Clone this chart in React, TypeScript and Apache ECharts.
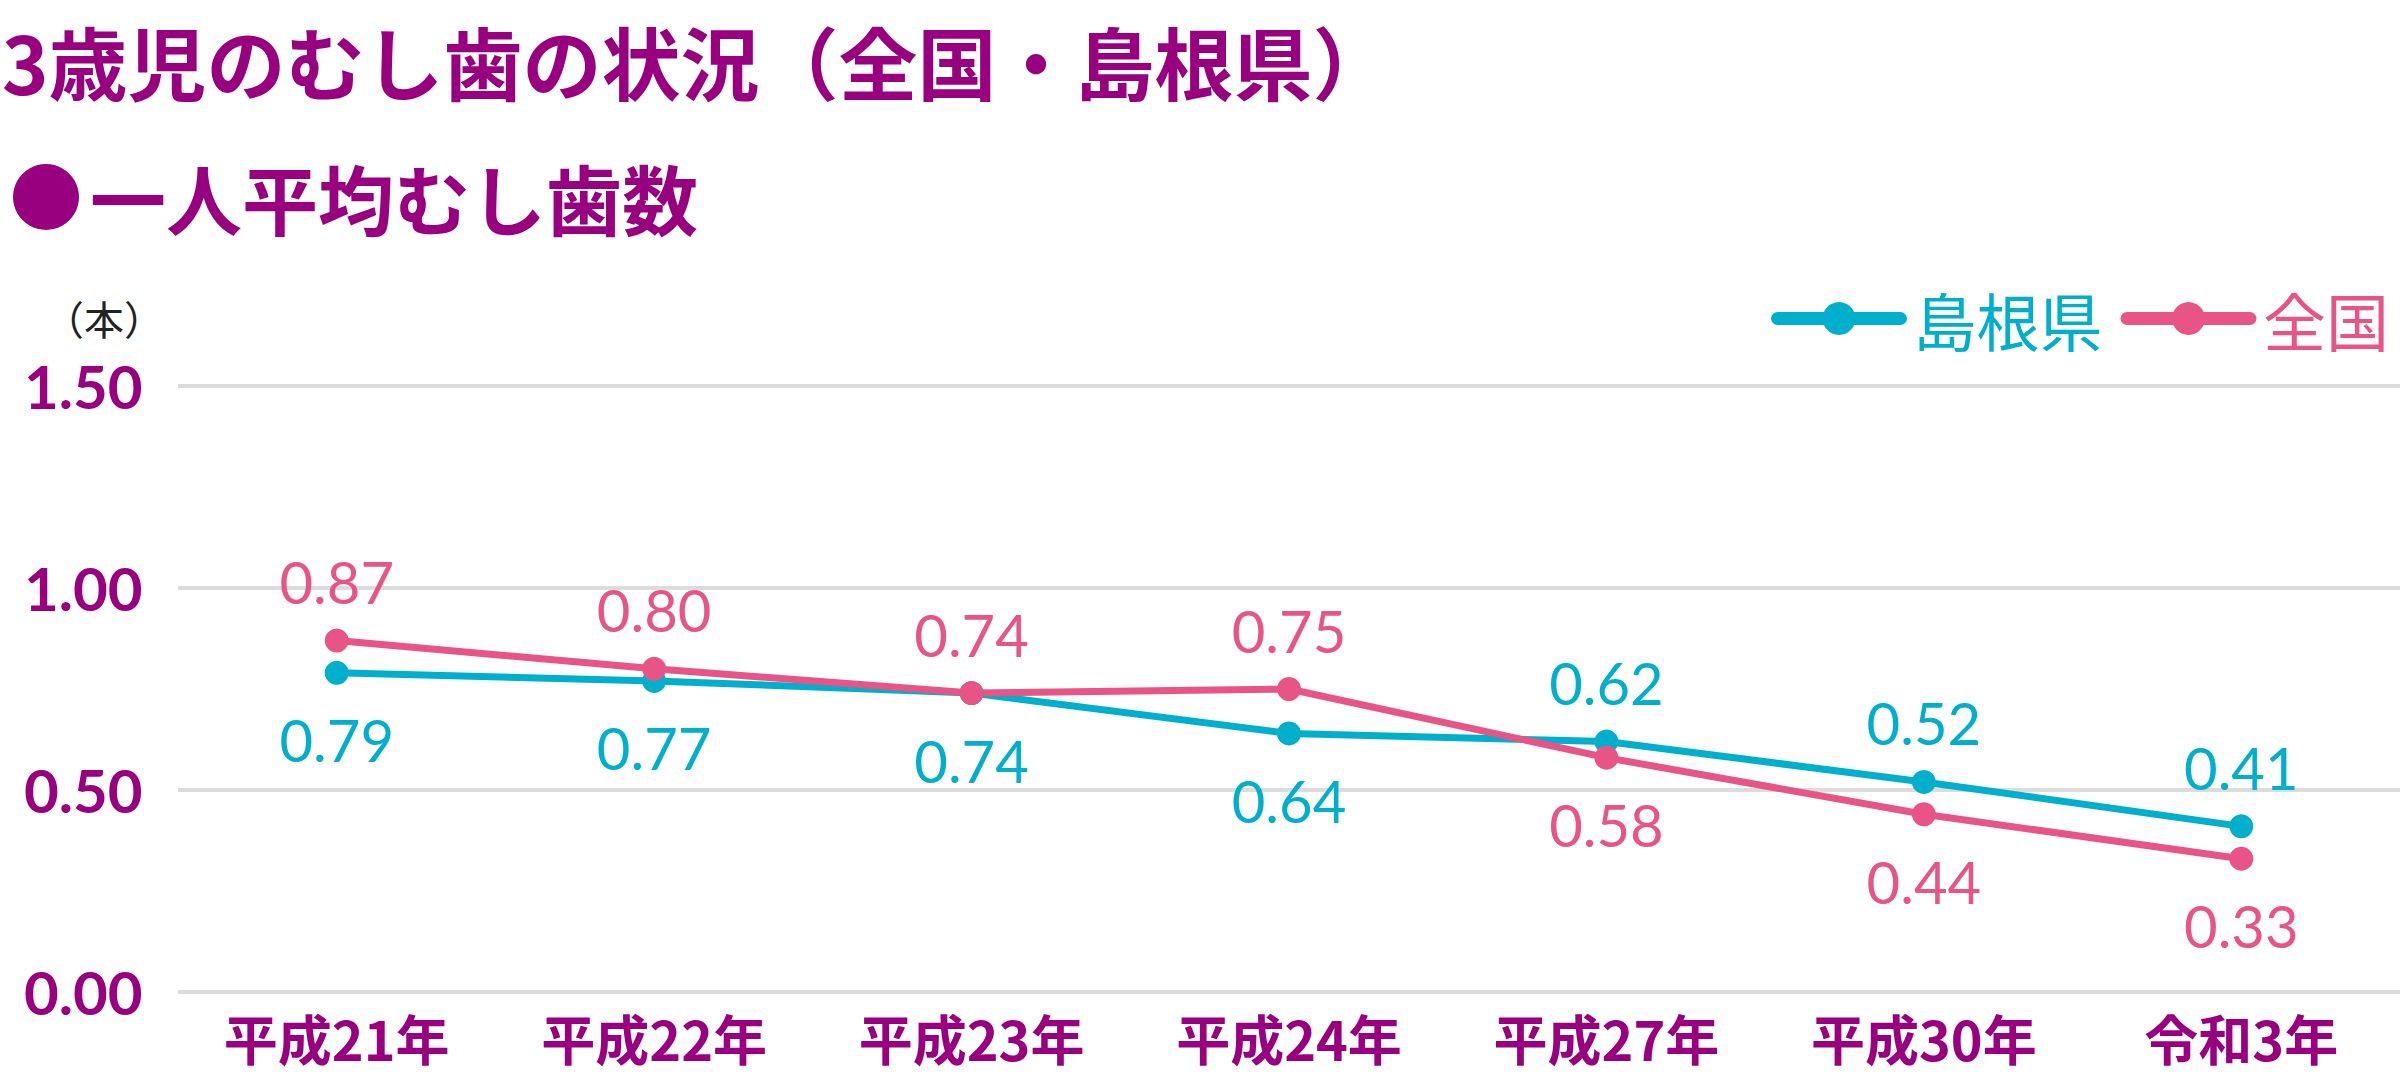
import React, { useEffect, useRef } from "react";
import * as echarts from "echarts";

const categories = ["平成21年", "平成22年", "平成23年", "平成24年", "平成27年", "平成30年", "令和3年"];
const shimaneValues = [0.79, 0.77, 0.74, 0.64, 0.62, 0.52, 0.41];
const zenkokuValues = [0.87, 0.8, 0.74, 0.75, 0.58, 0.44, 0.33];
const shimaneLabelPos = ["bottom", "bottom", "bottom", "bottom", "top", "top", "top"];
const zenkokuLabelPos = ["top", "top", "top", "top", "bottom", "bottom", "bottom"];
const yTicks = [0, 0.5, 1.0, 1.5];

const PURPLE = "#990080";
const TEAL = "#00AFCC";
const PINK = "#E85486";
const NUM_FONT = "Lato";
const JP_FONT = "'Noto Sans CJK JP'";

function buildData(values: number[], positions: string[]) {
  return values.map((v, i) => ({
    value: v,
    label: { position: positions[i], distance: positions[i] === "top" ? 18 : 26 },
  }));
}

export default function App() {
  const ref = useRef<HTMLDivElement>(null);
  useEffect(() => {
    if (!ref.current) return;
    const chart = echarts.init(ref.current, null, { renderer: "svg" });
    chart.setOption({
      animation: false,
      backgroundColor: "#ffffff",
      title: {
        text: "3歳児のむし歯の状況（全国・島根県）",
        left: 2,
        top: 17,
        padding: 0,
        textStyle: { fontFamily: JP_FONT, fontWeight: "bold", fontSize: 79, lineHeight: 86, color: PURPLE },
      },
      graphic: [
        { type: "circle", shape: { cx: 46, cy: 197, r: 33 }, style: { fill: PURPLE } },
        {
          type: "text",
          x: 90,
          y: 197,
          style: {
            text: "一人平均むし歯数",
            fontFamily: JP_FONT,
            fontWeight: "bold",
            fontSize: 76,
            fill: PURPLE,
            textVerticalAlign: "middle",
          },
        },
        {
          type: "text",
          x: 104,
          y: 318,
          style: {
            text: "（本）",
            fontFamily: JP_FONT,
            fontSize: 40,
            fill: "#222222",
            textAlign: "center",
            textVerticalAlign: "middle",
          },
        },
      ],
      legend: {
        right: 6,
        top: 282,
        itemWidth: 123,
        itemHeight: 41,
        itemGap: 18,
        lineStyle: { width: 13, cap: "round" },
        textStyle: { fontFamily: JP_FONT, fontSize: 63, padding: [0, 0, 0, 8] },
        data: [
          { name: "島根県", textStyle: { color: TEAL } },
          { name: "全国", textStyle: { color: PINK } },
        ],
      },
      grid: { left: 178, right: 0, top: 386, bottom: 88, containLabel: false },
      xAxis: {
        type: "category",
        data: categories,
        boundaryGap: true,
        axisLine: { show: false },
        axisTick: { show: false },
        axisLabel: {
          margin: 18,
          fontFamily: JP_FONT,
          fontWeight: "bold",
          fontSize: 54,
          lineHeight: 54,
          color: PURPLE,
        },
      },
      yAxis: {
        type: "value",
        min: yTicks[0],
        max: yTicks[yTicks.length - 1],
        interval: 0.5,
        axisLine: { show: false },
        axisTick: { show: false },
        splitLine: { lineStyle: { color: "#dcdcdc", width: 4 } },
        axisLabel: {
          align: "left",
          margin: 154,
          fontFamily: NUM_FONT,
          fontWeight: "bold",
          fontSize: 60,
          color: PURPLE,
          formatter: (v: number) => v.toFixed(2),
        },
      },
      series: [
        {
          name: "島根県",
          type: "line",
          data: buildData(shimaneValues, shimaneLabelPos),
          symbol: "circle",
          symbolSize: 24,
          lineStyle: { color: TEAL, width: 7 },
          itemStyle: { color: TEAL },
          label: {
            show: true,
            fontFamily: NUM_FONT,
            fontSize: 58,
            color: TEAL,
            formatter: (p: any) => Number(p.value).toFixed(2),
          },
        },
        {
          name: "全国",
          type: "line",
          data: buildData(zenkokuValues, zenkokuLabelPos),
          symbol: "circle",
          symbolSize: 24,
          lineStyle: { color: PINK, width: 7 },
          itemStyle: { color: PINK },
          label: {
            show: true,
            fontFamily: NUM_FONT,
            fontSize: 58,
            color: PINK,
            formatter: (p: any) => Number(p.value).toFixed(2),
          },
        },
      ],
    });
    return () => chart.dispose();
  }, []);
  return (
    <div
      ref={ref}
      style={{ position: "fixed", left: 0, top: 0, width: 2400, height: 1080, background: "#fff" }}
    />
  );
}
